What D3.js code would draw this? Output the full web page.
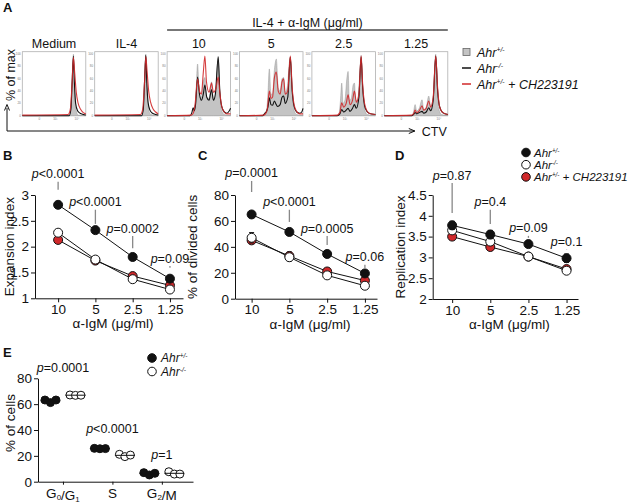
<!DOCTYPE html>
<html><head><meta charset="utf-8">
<script src="https://cdn.jsdelivr.net/npm/d3@7"></script>
<style>
body{margin:0;background:#fff}
text{font-family:"Liberation Sans",Arial,Helvetica,sans-serif;fill:#111}
</style>
</head><body><svg id="c" width="637" height="504"></svg>
<script>
// ================= DATA =================
// Panel A: CTV dilution histograms (x: % across CTV axis, y: % of max)
const histConditions = ["Medium","IL-4","10","5","2.5","1.25"];
const histHeader = "IL-4 + α-IgM (μg/ml)";
const histYTicks = [0,20,40,60,80,100];
const histXTicks = [[27,"0"],[52,"10³"],[86,"10⁴"]];
const histGray = [
  [[0,0],[73,0],[76,8],[78.5,45],[80.5,100],[82,60],[83.5,22],[85.5,6],[88,1],[100,0]],
  [[0,0],[73,0],[76,8],[78.5,45],[80.5,100],[82,60],[83.5,25],[85.5,8],[88,2],[100,0]],
  [[0,0],[38,0],[42,5],[45,25],[48,84],[51,30],[54,30],[57,55],[59.5,62],[62,30],[66,28],[70,55],[73,25],[76,30],[80.5,97],[83,40],[86,8],[90,2],[100,0]],
  [[0,0],[38,0],[42,5],[44.5,30],[47,76],[49.5,35],[52,35],[55,75],[58,92],[61,45],[64,40],[67,60],[69.5,62],[72,38],[75,45],[80,95],[83,40],[86,8],[90,2],[100,0]],
  [[0,0],[40,0],[43,5],[45,25],[47,53],[49,20],[52,25],[55,60],[57,72],[59,25],[62,28],[65,50],[67,53],[69,25],[72,25],[75,60],[77.5,98],[80,45],[83,10],[87,2],[100,0]],
  [[0,0],[43,0],[46,6],[48.5,18],[51,8],[55,12],[59.5,26],[62,10],[66,14],[70,32],[73,15],[77,30],[81,100],[83.5,45],[86,10],[90,2],[100,0]]
];
const histBlack = [
  [[0,0],[74,0],[76.5,10],[78.5,55],[80.5,97],[82,55],[84,20],[87,8],[91,4],[96,2],[100,1]],
  [[0,0],[74,0],[76.5,10],[78.5,55],[80.5,98],[82,55],[84,22],[87,9],[91,4],[96,2],[100,1]],
  [[0,0],[36,0],[39,5],[41,13],[43,8],[45,20],[48,63],[51,35],[54,25],[57,35],[59.5,50],[62.5,30],[66,25],[70,42],[73,25],[76,35],[80.5,95],[83,40],[86,15],[90,6],[94,4],[98,8],[100,12]],
  [[0,0],[36,0],[40,4],[43,8],[45,15],[47,29],[49.5,18],[52,17],[55,24],[57,20],[60,15],[64,18],[67,30],[69.5,32],[72,20],[76,30],[80,95],[83,40],[86,15],[90,6],[95,4],[98,6],[100,12]],
  [[0,0],[40,0],[44,3],[47,10],[50,6],[54,9],[57,12],[60,7],[64,12],[67,18],[70,12],[74,30],[77.5,95],[80,45],[84,12],[90,4],[100,2]],
  [[0,0],[43,0],[46,2],[48.5,5],[51,3],[55,5],[59.5,7],[62,4],[66,6],[70,13],[73,8],[77,25],[81,97],[84,40],[87,15],[92,5],[100,2]]
];
const histRed = [
  [[0,1],[72,2],[75.5,10],[78.5,55],[80.5,95],[82.5,70],[85,38],[88,20],[92,10],[96,5],[100,3]],
  [[0,1],[72,2],[75.5,10],[78.5,55],[80.5,96],[82.5,72],[85,40],[88,22],[92,11],[96,6],[100,3]],
  [[0,0],[38,1],[41,4],[44,18],[48,60],[51,40],[54,35],[57,70],[59.5,97],[62,55],[66,38],[70,53],[73,38],[77,45],[80.5,63],[83,38],[86,15],[90,6],[94,3],[100,3]],
  [[0,0],[38,1],[42,5],[44,12],[47,40],[49.5,28],[52,30],[55,62],[58,71],[61,40],[64,35],[67,55],[69.5,60],[72,35],[76,40],[80,97],[83,45],[86,18],[90,7],[95,3],[100,3]],
  [[0,0],[40,1],[44,5],[47,21],[50,14],[54,20],[57,34],[60,18],[64,25],[67,40],[70,22],[74,35],[77.5,97],[80,50],[84,15],[90,4],[100,2]],
  [[0,0],[43,1],[46,3],[48.5,9],[51,5],[55,8],[59.5,16],[62,9],[66,12],[70,24],[73,14],[77,30],[81,97],[84,45],[87,15],[92,5],[100,2]]
];

// Panels B-D: dose response
const doseCats = ["10","5","2.5","1.25"];
const expHet = [2.81,2.32,1.80,1.38], expHetErr = [0.06,0.04,0.03,0.05];
const expKO  = [2.27,1.75,1.37,1.17], expKOErr  = [0.06,0.04,0.03,0.03];
const expCH  = [2.13,1.73,1.43,1.25], expCHErr  = [0.03,0.02,0.02,0.02];
const expP = ["<0.0001","<0.0001","=0.0002","=0.09"];
const expPLabelY = [3.41,2.87,2.36,1.78];
const expPLineEnd = [3.10,2.44,1.97,1.59];
const expTicks = [1,1.5,2,2.5,3];

const divHet = [65,51.5,34.5,19.5], divHetErr = [1.5,1.2,1.2,1.2];
const divKO  = [47,32,18,10],       divKOErr  = [4,3,2,1];
const divCH  = [45,33,21,14],       divCHErr  = [1.5,3,1.5,1];
const divP = ["=0.0001","<0.0001","=0.0005","=0.06"];
const divPLabelY = [97,74.8,54.5,32.4];
const divPLineEnd = [82.3,59.2,41.4,23.7];
const divTicks = [0,20,40,60,80];

const repHet = [3.77,3.55,3.32,2.98], repHetErr = [0.1,0.1,0.08,0.1];
const repKO  = [3.65,3.38,3.02,2.68], repKOErr  = [0.05,0.05,0.03,0.05];
const repCH  = [3.50,3.25,3.02,2.72], repCHErr  = [0.05,0.04,0.03,0.05];
const repP = ["=0.87","=0.4","=0.09","=0.1"];
const repPLabelY = [4.98,4.34,3.71,3.38];
const repPLineEnd = [4.07,3.80,3.47,3.18];
const repTicks = [2,2.5,3,3.5,4,4.5];

// Panel E: cell cycle
const phaseCats = ["G0/G1","S","G2/M"];
const phaseHet = [[63.2,61.2,63.2],[25.8,25.5,25.6],[7.0,5.2,6.5]];
const phaseKO  = [[67.1,66.8,66.9],[21.2,19.4,20.6],[7.7,5.9,5.9]];
const phaseP = ["=0.0001","<0.0001","=1"];
const phasePLabelY = [88,41.5,20.7];
const phaseTicks = [0,20,40,60,80];

// ================= DRAW =================
const svg = d3.select("#c");
const RED = "#d0282a";

function panelLetter(t, x, y){
  svg.append("text").attr("x",x).attr("y",y).text(t)
    .style("font-weight","bold").style("font-size","13px");
}
function ahrText(sel, sup, suffix, size){
  sel.append("tspan").text("Ahr").style("font-style","italic");
  sel.append("tspan").text(sup).style("font-style","italic")
     .style("font-size",(size*0.55)+"px").attr("dy",-size*0.33);
  const s = sel.append("tspan").attr("dy",size*0.33);
  if (suffix){
    s.text(" + ");
    sel.append("tspan").text("CH223191").style("font-style","italic");
  }
}
function pText(sel, rest){
  sel.append("tspan").text("p").style("font-style","italic");
  sel.append("tspan").text(rest);
}

// ---------- Panel A ----------
panelLetter("A", 3, 12);
const band = d3.scaleBand().domain(histConditions).range([22.3,447.8]).paddingInner(0.123).paddingOuter(0);
const hx = d3.scaleLinear().domain([0,100]).range([0, band.bandwidth()]);
const hy = d3.scaleLinear().domain([0,104]).range([115.7,51.7]);
const area = d3.area().x(d=>hx(d[0])).y0(hy(0)).y1(d=>hy(d[1])).curve(d3.curveMonotoneX);
const line = d3.line().x(d=>hx(d[0])).y(d=>hy(d[1])).curve(d3.curveMonotoneX);

histConditions.forEach((c,i)=>{
  const g = svg.append("g").attr("transform",`translate(${band(c)},0)`);
  g.append("rect").attr("x",0).attr("y",hy.range()[1]).attr("width",band.bandwidth())
   .attr("height",hy.range()[0]-hy.range()[1]).attr("fill","none").attr("stroke","#b0b0b0").attr("stroke-width",0.8);
  g.append("path").attr("d",area(histGray[i])).attr("fill","#c4c4c4").attr("stroke","#9a9a9a").attr("stroke-width",0.5);
  g.append("path").attr("d",line(histBlack[i])).attr("fill","none").attr("stroke","#111").attr("stroke-width",1.1);
  g.append("path").attr("d",line(histRed[i])).attr("fill","none").attr("stroke",RED).attr("stroke-width",1.1).attr("stroke-opacity",0.9);
  histYTicks.forEach(t=>{
    g.append("text").attr("x",-1.5).attr("y",hy(t)+1).attr("text-anchor","end")
     .style("font-size","3px").style("fill","#777").text(t);
  });
  histXTicks.forEach(t=>{
    g.append("text").attr("x",hx(t[0])).attr("y",hy(0)+4.5).attr("text-anchor","middle")
     .style("font-size","3px").style("fill","#777").text(t[1]);
  });
  svg.append("text").attr("x",band(c)+band.bandwidth()/2).attr("y",47.5).attr("text-anchor","middle")
    .style("font-size","12.5px").text(c);
});
// header over IL-4 + anti-IgM columns
const hdrX0 = band("10"), hdrX1 = band("1.25")+band.bandwidth();
svg.append("line").attr("x1",hdrX0).attr("x2",hdrX1).attr("y1",30).attr("y2",30).attr("stroke","#777").attr("stroke-width",2);
svg.append("text").attr("x",(hdrX0+hdrX1)/2).attr("y",26.5).attr("text-anchor","middle").style("font-size","12.5px").text(histHeader);
// y label & CTV arrow
svg.append("text").attr("transform","translate(14.5,75) rotate(-90)").attr("text-anchor","middle").style("font-size","12.5px").text("% of max");
svg.append("path").attr("d",`M7,108 L7,131 L${hdrX1-33},131`).attr("fill","none").attr("stroke","#111").attr("stroke-width",1);
svg.append("path").attr("d","M4.5,110.5 L7,104.5 L9.5,110.5").attr("fill","none").attr("stroke","#111").attr("stroke-width",1);
svg.append("path").attr("d",`M${hdrX1-39},128.5 L${hdrX1-33},131 L${hdrX1-39},133.5`).attr("fill","none").attr("stroke","#111").attr("stroke-width",1);
svg.append("text").attr("x",hdrX1-26).attr("y",135.5).style("font-size","12.5px").text("CTV");
// legend A
const legA = [["+/-",""],["-/-",""],["+/-","ch"]];
legA.forEach((d,i)=>{
  const y = 52 + i*16;
  if (i===0) svg.append("rect").attr("x",463).attr("y",y-3.5).attr("width",7).attr("height",7).attr("fill","#c4c4c4").attr("stroke","#666").attr("stroke-width",0.8);
  else svg.append("line").attr("x1",462).attr("x2",471).attr("y1",y).attr("y2",y).attr("stroke",i===1?"#111":RED).attr("stroke-width",1.5);
  const t = svg.append("text").attr("x",477).attr("y",y+4.5).style("font-size","12.5px");
  ahrText(t, d[0], d[1], 12.5);
});

// ---------- Panels B-D ----------
function dosePanel(o){
  const x = d3.scaleLinear().domain(o.xDomain).range(o.xRange);
  const y = d3.scaleLinear().domain(o.yDomain).range(o.yRange);
  const ax = svg.append("g").attr("transform",`translate(${o.xRange[0]},0)`)
    .call(d3.axisLeft(y).tickValues(o.yTicks).tickSize(4).tickSizeOuter(0).tickPadding(2).tickFormat(d3.format("")));
  const bx = svg.append("g").attr("transform",`translate(0,${o.yRange[0]})`)
    .call(d3.axisBottom(x).tickValues(d3.range(doseCats.length)).tickFormat(i=>doseCats[i]).tickSize(4).tickSizeOuter(0).tickPadding(2));
  [ax,bx].forEach(a=>{a.selectAll("text").style("font-size","13.5px").attr("fill","#111");
    a.selectAll("path,line").attr("stroke","#111");});
  svg.append("text").attr("x",(o.xRange[0]+o.xRange[1])/2+4).attr("y",o.yRange[0]+30).attr("text-anchor","middle")
    .style("font-size","13.5px").text("α-IgM (μg/ml)");
  svg.append("text").attr("transform",`translate(${o.titleX},${(o.yRange[0]+o.yRange[1])/2}) rotate(-90)`)
    .attr("text-anchor","middle").style("font-size","13.5px").text(o.title);
  // p annotations
  o.p.forEach((p,i)=>{
    const t = svg.append("text").attr("x",x(i)).attr("y",y(o.pY[i])+4.5).attr("text-anchor","middle").style("font-size","12.5px");
    pText(t,p);
    svg.append("line").attr("x1",x(i)).attr("x2",x(i)).attr("y1",y(o.pY[i])+8).attr("y2",y(o.pEnd[i]))
      .attr("stroke","#888").attr("stroke-width",1.3);
  });
  const series = [
    {v:o.ch, e:o.chErr, fill:RED},
    {v:o.ko, e:o.koErr, fill:"#fff"},
    {v:o.het, e:o.hetErr, fill:"#111"}
  ];
  const ln = d3.line().x((d,i)=>x(i)).y(d=>y(d));
  series.forEach(s=>{
    svg.append("path").attr("d",ln(s.v)).attr("fill","none").attr("stroke","#111").attr("stroke-width",1);
  });
  series.forEach(s=>{
    s.v.forEach((v,i)=>{
      svg.append("line").attr("x1",x(i)).attr("x2",x(i)).attr("y1",y(v-s.e[i])).attr("y2",y(v+s.e[i])).attr("stroke","#111").attr("stroke-width",1);
      [v-s.e[i], v+s.e[i]].forEach(b=>svg.append("line").attr("x1",x(i)-2.5).attr("x2",x(i)+2.5).attr("y1",y(b)).attr("y2",y(b)).attr("stroke","#111").attr("stroke-width",1));
    });
    svg.selectAll(null).data(s.v).enter().append("circle")
      .attr("cx",(d,i)=>x(i)).attr("cy",d=>y(d)).attr("r",4.5)
      .attr("fill",s.fill).attr("stroke","#111").attr("stroke-width",1);
  });
}

panelLetter("B", 3, 160);
dosePanel({xDomain:[-0.62,3.35], xRange:[35,183], yDomain:[1,3], yRange:[298.3,195], yTicks:expTicks,
  title:"Expansion index", titleX:14,
  het:expHet, hetErr:expHetErr, ko:expKO, koErr:expKOErr, ch:expCH, chErr:expCHErr,
  p:expP, pY:expPLabelY, pEnd:expPLineEnd});

panelLetter("C", 198, 160);
dosePanel({xDomain:[-0.44,3.32], xRange:[235,377], yDomain:[0,80], yRange:[298.7,195], yTicks:divTicks,
  title:"% of divided cells", titleX:197,
  het:divHet, hetErr:divHetErr, ko:divKO, koErr:divKOErr, ch:divCH, chErr:divCHErr,
  p:divP, pY:divPLabelY, pEnd:divPLineEnd});

panelLetter("D", 395, 160);
dosePanel({xDomain:[-0.51,3.30], xRange:[432.7,578], yDomain:[2,4.5], yRange:[299,195], yTicks:repTicks,
  title:"Replication index", titleX:405,
  het:repHet, hetErr:repHetErr, ko:repKO, koErr:repKOErr, ch:repCH, chErr:repCHErr,
  p:repP, pY:repPLabelY, pEnd:repPLineEnd});

// legend D
const legD = [["#111","+/-",""],["#fff","-/-",""],[RED,"+/-","ch"]];
legD.forEach((d,i)=>{
  const y = 152.5 + i*12.2;
  svg.append("circle").attr("cx",526).attr("cy",y).attr("r",4.3).attr("fill",d[0]).attr("stroke","#111").attr("stroke-width",1);
  const t = svg.append("text").attr("x",534).attr("y",y+4).style("font-size","11.5px");
  ahrText(t, d[1], d[2], 11.5);
});

// ---------- Panel E ----------
panelLetter("E", 3, 357);
{
  const x = d3.scaleLinear().domain([-0.505,2.63]).range([38,193]);
  const y = d3.scaleLinear().domain([0,80]).range([481.7,378.3]);
  const grp = d3.scaleBand().domain(["het","ko"]).range([-25,25]);
  const rep = d3.scalePoint().domain([0,1,2]).range([-5.5,5.5]);
  const ax = svg.append("g").attr("transform","translate(38,0)")
    .call(d3.axisLeft(y).tickValues(phaseTicks).tickSize(4).tickSizeOuter(0).tickPadding(2));
  const bx = svg.append("g").attr("transform",`translate(0,${y(0)})`)
    .call(d3.axisBottom(x).tickValues([0,1,2]).tickFormat(()=>"").tickSize(3).tickSizeOuter(0));
  [ax,bx].forEach(a=>{a.selectAll("text").style("font-size","13.5px").attr("fill","#111");
    a.selectAll("path,line").attr("stroke","#111");});
  phaseCats.forEach((c,i)=>{
    const t = svg.append("text").attr("x",x(i)).attr("y",y(0)+16).attr("text-anchor","middle").style("font-size","13.5px");
    const parts = c.split("/");
    parts.forEach((p,j)=>{
      if (j>0) t.append("tspan").text("/");
      if (p.length===2 && /\d/.test(p[1])){
        t.append("tspan").text(p[0]);
        t.append("tspan").text(p[1]).style("font-size","8px").attr("dy",2);
        t.append("tspan").text("").attr("dy",-2);
      } else t.append("tspan").text(p);
    });
    const pt = svg.append("text").attr("x",x(i)).attr("y",y(phasePLabelY[i])+4.5).attr("text-anchor","middle").style("font-size","12.5px");
    pText(pt, phaseP[i]);
  });
  [["het",phaseHet,"#111"],["ko",phaseKO,"#fff"]].forEach(([k,data,fill])=>{
    data.forEach((vals,i)=>{
      const cx = x(i)+grp(k)+grp.bandwidth()/2;
      vals.forEach((v,j)=>{
        svg.append("circle").attr("cx",cx+rep(j)).attr("cy",y(v)).attr("r",4)
          .attr("fill",fill).attr("stroke","#111").attr("stroke-width",1);
      });
      const m = d3.mean(vals);
      svg.append("line").attr("x1",cx-10).attr("x2",cx+10).attr("y1",y(m)).attr("y2",y(m)).attr("stroke","#111").attr("stroke-width",1);
    });
  });
  svg.append("text").attr("transform",`translate(15,423) rotate(-90)`).attr("text-anchor","middle")
    .style("font-size","13.5px").text("% of cells");
  const legE = [["#111","+/-"],["#fff","-/-"]];
  legE.forEach((d,i)=>{
    const yy = 358 + i*13.5;
    svg.append("circle").attr("cx",152).attr("cy",yy).attr("r",4.3).attr("fill",d[0]).attr("stroke","#111");
    const t = svg.append("text").attr("x",161).attr("y",yy+4.3).style("font-size","12px");
    ahrText(t, d[1], "", 12);
  });
}
</script></body></html>
